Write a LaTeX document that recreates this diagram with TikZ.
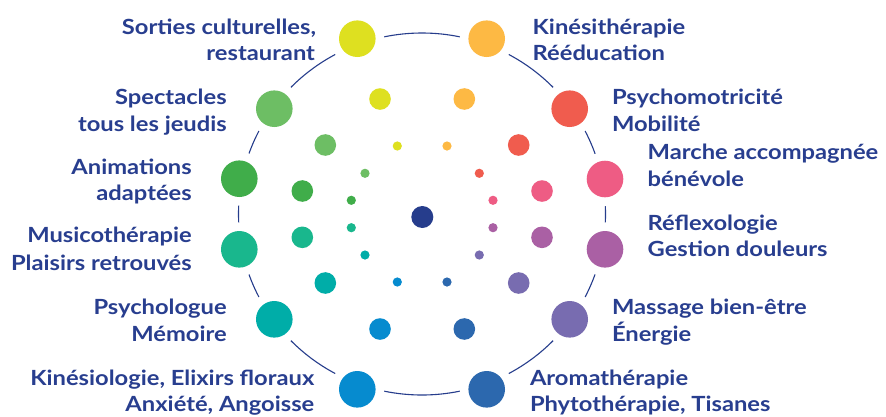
\documentclass[tikz,border=0pt]{standalone}
\usepackage{fontspec}
\newfontfamily\labfont{Lato}[FakeStretch=1.135]
\definecolor{cA}{RGB}{222,224,32}
\definecolor{cB}{RGB}{253,185,68}
\definecolor{cC}{RGB}{240,92,78}
\definecolor{cD}{RGB}{238,92,132}
\definecolor{cE}{RGB}{170,96,164}
\definecolor{cF}{RGB}{120,108,176}
\definecolor{cG}{RGB}{44,104,174}
\definecolor{cH}{RGB}{6,139,207}
\definecolor{cI}{RGB}{0,173,168}
\definecolor{cJ}{RGB}{25,183,141}
\definecolor{cK}{RGB}{64,173,74}
\definecolor{cL}{RGB}{109,190,100}
\definecolor{navy}{RGB}{38,61,140}
\definecolor{txt}{RGB}{40,62,143}
\begin{document}
\begin{tikzpicture}[x=1pt,y=-1pt,
  bigdot/.style={circle,inner sep=0pt,outer sep=0pt,minimum size=36.6pt,draw=none,
     preaction={draw=white,line width=17.4pt}},
  middot/.style={circle,inner sep=0pt,outer sep=0pt,minimum size=21.6pt,draw=none},
  smalldot/.style={circle,inner sep=0pt,outer sep=0pt,minimum size=9.2pt,draw=none},
  lab/.style={font=\labfont\bfseries\fontsize{20.9}{25}\selectfont,text=txt,inner sep=0pt,outer sep=0pt},
  labl/.style={lab,anchor=base west},
  labr/.style={lab,anchor=base east}]
\useasboundingbox[fill=white] (0,0) rectangle (886,416);
% ring
\draw[navy,line width=1.1pt] (422,214) ellipse [x radius=183.5, y radius=181];
% outer dots
\node[bigdot,fill=cA] (oA) at (357.3,38.7) {};
\node[bigdot,fill=cB] (oB) at (486.7,38.7) {};
\node[bigdot,fill=cC] (oC) at (569.7,108.7) {};
\node[bigdot,fill=cD] (oD) at (605,179) {};
\node[bigdot,fill=cE] (oE) at (605,249.3) {};
\node[bigdot,fill=cF] (oF) at (569.7,319.3) {};
\node[bigdot,fill=cG] (oG) at (486.7,389.3) {};
\node[bigdot,fill=cH] (oH) at (357.3,389.3) {};
\node[bigdot,fill=cI] (oI) at (274.3,319.3) {};
\node[bigdot,fill=cJ] (oJ) at (239.3,249.3) {};
\node[bigdot,fill=cK] (oK) at (239.3,178.7) {};
\node[bigdot,fill=cL] (oL) at (274.3,108.7) {};
% middle dots
\node[middot,fill=cA] (mA) at (380,99) {};
\node[middot,fill=cB] (mB) at (464.3,99) {};
\node[middot,fill=cC] (mC) at (518.7,145) {};
\node[middot,fill=cD] (mD) at (542,191) {};
\node[middot,fill=cE] (mE) at (542,237.3) {};
\node[middot,fill=cF] (mF) at (518.7,283) {};
\node[middot,fill=cG] (mG) at (464.3,329) {};
\node[middot,fill=cH] (mH) at (380,329) {};
\node[middot,fill=cI] (mI) at (325.3,283) {};
\node[middot,fill=cJ] (mJ) at (302.3,237.3) {};
\node[middot,fill=cK] (mK) at (302.3,191) {};
\node[middot,fill=cL] (mL) at (325.3,145) {};
% inner dots
\node[smalldot,fill=cA] (iA) at (397.3,146) {};
\node[smalldot,fill=cB] (iB) at (447,146) {};
\node[smalldot,fill=cC] (iC) at (479.3,173.3) {};
\node[smalldot,fill=cD] (iD) at (493,200.3) {};
\node[smalldot,fill=cE] (iE) at (493,227.7) {};
\node[smalldot,fill=cF] (iF) at (479.3,255) {};
\node[smalldot,fill=cG] (iG) at (447,282) {};
\node[smalldot,fill=cH] (iH) at (397.3,282) {};
\node[smalldot,fill=cI] (iI) at (365,255) {};
\node[smalldot,fill=cJ] (iJ) at (351.3,227.7) {};
\node[smalldot,fill=cK] (iK) at (351.3,200.3) {};
\node[smalldot,fill=cL] (iL) at (365,173.3) {};
% centre
\node[circle,inner sep=0pt,minimum size=22pt,fill=navy] (ctr) at (422.3,217) {};
% labels
\node[labr] (tA1) at (316,34) {Sorties culturelles,};
\node[labr] (tA2) at (315,60.7) {restaurant};
\node[labl] (tB1) at (532.7,34) {Kinésithérapie};
\node[labl] (tB2) at (532.7,60.7) {Rééducation};
\node[labl] (tC1) at (612,104.3) {Psychomotricité};
\node[labl] (tC2) at (612,131) {Mobilité};
\node[labl] (tD1) at (647.7,159.3) {Marche accompagnée};
\node[labl] (tD2) at (647.7,186.7) {bénévole};
\node[labl] (tE1) at (647.7,230) {Réflexologie};
\node[labl] (tE2) at (647.7,256.7) {Gestion douleurs};
\node[labl] (tF1) at (612,314.3) {Massage bien-être};
\node[labl] (tF2) at (612,341) {Énergie};
\node[labl] (tG1) at (530,385) {Aromathérapie};
\node[labl] (tG2) at (530,411.7) {Phytothérapie, Tisanes};
\node[labr] (tH1) at (314.3,385) {Kinésiologie, Elixirs floraux};
\node[labr] (tH2) at (314.3,411.7) {Anxiété, Angoisse};
\node[labr] (tI1) at (226.7,314.3) {Psychologue};
\node[labr] (tI2) at (226.7,341) {Mémoire};
\node[labr] (tJ1) at (191.7,242.7) {Musicothérapie};
\node[labr] (tJ2) at (191.7,270) {Plaisirs retrouvés};
\node[labr] (tK1) at (191.7,174) {Animations};
\node[labr] (tK2) at (191.7,200.7) {adaptées};
\node[labr] (tL1) at (226.7,104.3) {Spectacles};
\node[labr] (tL2) at (226.7,131) {tous les jeudis};
\end{tikzpicture}
\end{document}
